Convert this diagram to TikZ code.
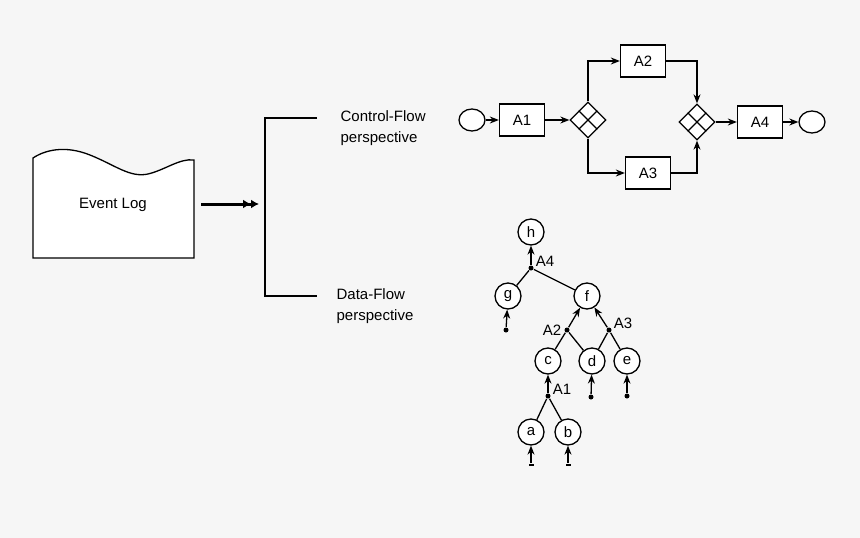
\documentclass[tikz,border=0pt]{standalone}
\usepackage{fontspec}
\setmainfont{Liberation Sans}
\usetikzlibrary{arrows.meta,positioning,shapes.geometric,calc}
\begin{document}
\begin{tikzpicture}[x=1pt,y=-1pt,font=\fontsize{15}{21}\selectfont,line width=1.3pt,
  act/.style={rectangle,draw,fill=white,minimum width=45pt,minimum height=32pt,inner sep=1pt},
  ev/.style={ellipse,draw,fill=white,minimum width=26pt,minimum height=22pt,inner sep=0pt},
  gw/.style={diamond,draw,fill=white,minimum size=36pt,inner sep=0pt},
  dat/.style={circle,draw,fill=white,minimum size=26pt,inner sep=0pt},
  dot/.style={circle,fill,inner sep=0pt,minimum size=5pt},
  arr/.style={-{Stealth[length=9pt,width=7pt]}}]
\fill[gray!7] (0,0) rectangle (860,538);

% Event log
\draw[fill=white] (33,258) -- (33,158) .. controls (45,150) and (65,145) .. (90,155)
  .. controls (115,165) and (130,178) .. (148,174) .. controls (165,170) and (180,158) .. (194,160) -- (194,258) -- cycle;
\node (log) at (113,205) {Event Log};
\coordinate (s0) at (201,204);
\coordinate (s1) at (259,204);
\draw[line width=3pt,-{Latex[length=8pt,width=9pt]Latex[length=8pt,width=9pt]}] (s0) -- (s1);

% Bracket
\coordinate (bt) at (265,118);
\coordinate (bb) at (265,296);
\draw (317,118) -- (bt) -- (bb) -- (317,296);
\node[align=left,anchor=west,inner sep=0pt] (cf) at (340,128) {Control-Flow\\perspective};
\node[align=left,anchor=west,inner sep=0pt] (df) at (336,306) {Data-Flow\\perspective};

% Control flow
\node[ev] (start) at (472,120) {};
\node[act] (a1) at (522,120) {A1};
\node[gw] (g1) at (588,120) {};
\node[act] (a2) at (643,61) {A2};
\node[act] (a3) at (648,173) {A3};
\node[gw] (g2) at (697,122) {};
\node[act] (a4) at (760,122) {A4};
\node[ev] (end) at (812,122) {};
\foreach \g in {g1,g2}{
  \draw ($(\g.north)!0.5!(\g.west)$) -- ($(\g.south)!0.5!(\g.east)$);
  \draw ($(\g.north)!0.5!(\g.east)$) -- ($(\g.south)!0.5!(\g.west)$);}
\draw[arr] (start) -- (a1);
\draw[arr] (a1) -- (g1);
\draw[arr] (g1.north) |- (a2);
\draw[arr] (g1.south) |- (a3);
\draw[arr] (a2) -| (g2.north);
\draw[arr] (a3) -| (g2.south);
\draw[arr] (g2) -- (a4);
\draw[arr] (a4) -- (end);

% Data flow
\node[dat] (h) at (531,232) {h};
\node[dot] (t4) at (531,268) {};
\node[anchor=south west,inner sep=1pt] at (t4.east) {A4};
\node[dat] (g) at (508,296) {g};
\node[dat] (f) at (587,296) {f};
\node[dot] (t2) at (567,330) {};
\node[anchor=east,inner sep=2pt] at (t2.west) {A2};
\node[dot] (t3) at (609,330) {};
\node[anchor=south west,inner sep=1pt] at (t3.east) {A3};
\node[dat] (c) at (548,361) {c};
\node[dat] (d) at (592,361) {d};
\node[dat] (e) at (627,361) {e};
\node[dot] (t1) at (548,396) {};
\node[anchor=south west,inner sep=1pt] at (t1.east) {A1};
\node[dat] (a) at (531,432) {a};
\node[dat] (b) at (568,432) {b};
\node[dot] (ig) at (506,330) {};
\node[dot] (id) at (591,397) {};
\node[dot] (ie) at (627,396) {};
\node[rectangle,fill,inner sep=0pt,minimum width=5pt,minimum height=2.5pt] (ia) at (531,465) {};
\node[rectangle,fill,inner sep=0pt,minimum width=5pt,minimum height=2.5pt] (ib) at (568,465) {};
\draw (g) -- (t4) -- (f);
\draw[arr] (t4) -- (h);
\draw (c) -- (t2) -- (d) -- (t3) -- (e);
\draw[arr] (t2) -- (f);
\draw[arr] (t3) -- (f);
\draw (a) -- (t1) -- (b);
\draw[arr] (t1) -- (c);
\foreach \i/\n in {ig/g,id/d,ie/e,ia/a,ib/b}
  \draw[arr] (\i) -- (\n);
\end{tikzpicture}
\end{document}
